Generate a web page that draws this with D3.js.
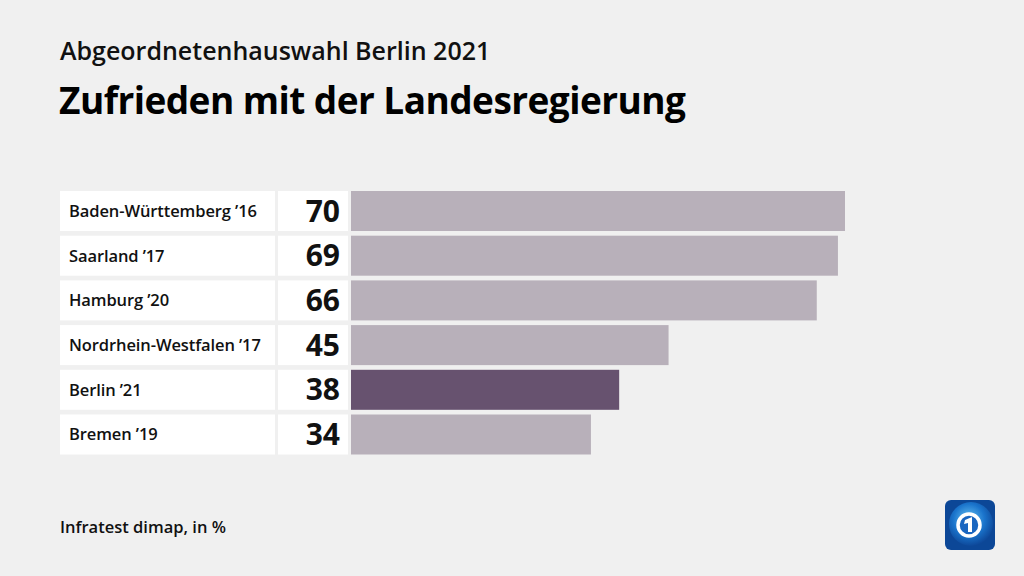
<!DOCTYPE html>
<html><head><meta charset="utf-8">
<script src="https://cdn.jsdelivr.net/npm/d3@7/dist/d3.min.js"></script>
<style>body{margin:0;background:#f0f0f0;}svg{display:block;font-family:"Open Sans","Noto Sans",sans-serif;}</style>
</head><body>
<svg id="c" width="1024" height="576"></svg>
<script>
const categories = ["Baden-Württemberg ’16","Saarland ’17","Hamburg ’20","Nordrhein-Westfalen ’17","Berlin ’21","Bremen ’19"];
const values = [70,69,66,45,38,34];
const highlight = ["Berlin ’21"];

const svg = d3.select("#c");
svg.append("rect").attr("width",1024).attr("height",576).attr("fill","#f0f0f0");

svg.append("text").attr("x",60).attr("y",60).attr("font-size",25).attr("font-weight",600).attr("fill","#111").attr("letter-spacing",0)
  .text("Abgeordnetenhauswahl Berlin 2021");
svg.append("text").attr("x",59).attr("y",114).attr("font-size",37).attr("font-weight",700).attr("fill","#000").attr("letter-spacing",-0.55)
  .text("Zufrieden mit der Landesregierung");
svg.append("text").attr("x",60).attr("y",533).attr("font-size",16.5).attr("font-weight",600).attr("fill","#111")
  .text("Infratest dimap, in %");

const y = d3.scaleBand().domain(categories).range([191,454.5]).paddingInner(0.105).paddingOuter(0);
const x = d3.scaleLinear().domain([0,70]).range([351,845]);

const g = svg.append("g");
const rows = g.selectAll("g.row").data(categories.map((c,i)=>({c,v:values[i]}))).join("g");
rows.append("rect").attr("x",60).attr("y",d=>y(d.c)).attr("width",215).attr("height",y.bandwidth()).attr("fill","#fff");
rows.append("rect").attr("x",278).attr("y",d=>y(d.c)).attr("width",70).attr("height",y.bandwidth()).attr("fill","#fff");
rows.append("rect").attr("x",x(0)).attr("y",d=>y(d.c)).attr("width",d=>x(d.v)-x(0)).attr("height",y.bandwidth())
  .attr("fill",d=>highlight.includes(d.c)?"#67526f":"#b8b0ba");
rows.append("text").attr("x",69).attr("y",d=>y(d.c)+y.bandwidth()/2+6).attr("font-size",16.5).attr("font-weight",600).attr("fill","#111")
  .attr("letter-spacing",-0.1).text(d=>d.c);
rows.append("text").attr("x",340).attr("y",d=>y(d.c)+y.bandwidth()/2+10.5).attr("text-anchor","end").attr("font-size",30).attr("font-weight",700).attr("fill","#111")
  .text(d=>d.v);

// logo
const defs = svg.append("defs");
const rg = defs.append("radialGradient").attr("id","lg").attr("cx","0.45").attr("cy","0.4").attr("r","0.65");
rg.append("stop").attr("offset","0").attr("stop-color","#6cc6f5");
rg.append("stop").attr("offset","0.55").attr("stop-color","#1a74cc");
rg.append("stop").attr("offset","1").attr("stop-color","#0b3f8f");
const lg = svg.append("g").attr("transform","translate(945,500)");
lg.append("rect").attr("width",50).attr("height",50).attr("rx",6).attr("fill","#0c4797");
lg.append("circle").attr("cx",26).attr("cy",24).attr("r",22).attr("fill","url(#lg)");
lg.append("circle").attr("cx",24).attr("cy",25).attr("r",11).attr("fill","#1a66c0").attr("stroke","#fff").attr("stroke-width",3.5);
lg.append("path").attr("d","M20 20 L27 17 L27 32 L23 32 L23 23 L19 24 Z").attr("fill","#fff");
</script>
</body></html>
